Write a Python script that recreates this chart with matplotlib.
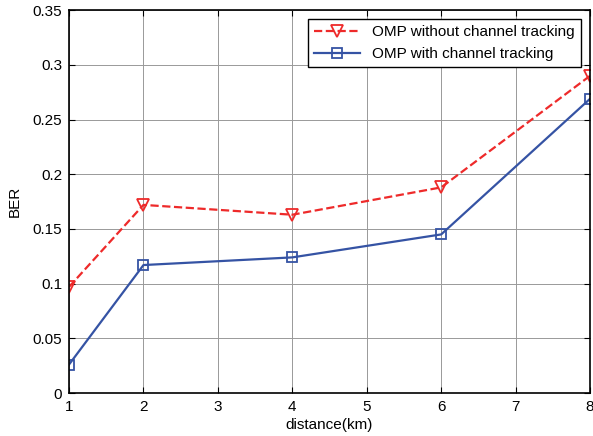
import matplotlib.pyplot as plt

distance = [1, 2, 4, 6, 8]
ber_without = [0.097, 0.172, 0.163, 0.188, 0.290]
ber_with = [0.026, 0.117, 0.124, 0.145, 0.269]

plt.rcParams['font.family'] = ['Liberation Sans', 'DejaVu Sans']
plt.rcParams['font.size'] = 11

fig = plt.figure(figsize=(5.93, 4.36), dpi=100)
ax = fig.add_axes([0.1164, 0.0986, 0.8786, 0.878])

ax.plot(distance, ber_without, '--', color='#ee2a2a', lw=1.6, marker='v',
        ms=8, mfc='none', mec='#ee2a2a', mew=1.3,
        label='OMP without channel tracking')
ax.plot(distance, ber_with, '-', color='#3553a4', lw=1.6, marker='s',
        ms=7, mfc='none', mec='#3553a4', mew=1.3,
        label='OMP with channel tracking')

ax.set_xlim(1, 8)
ax.set_ylim(0, 0.35)
ax.set_xticks(range(1, 9))
ax.set_yticks([0, 0.05, 0.1, 0.15, 0.2, 0.25, 0.3, 0.35])
ax.set_yticklabels(['0', '0.05', '0.1', '0.15', '0.2', '0.25', '0.3', '0.35'])
ax.grid(True, color='#999999', lw=0.7)
ax.tick_params(direction='in', length=4, top=True, right=True, pad=5)
for s in ax.spines.values():
    s.set_linewidth(1.2)
ax.set_xlabel('distance(km)', labelpad=3)
ax.set_ylabel('BER', labelpad=8)

leg = ax.legend(loc='upper right', fancybox=False, edgecolor='black',
                framealpha=1, handlelength=3, borderaxespad=0.6,
                labelspacing=0.5)
leg.get_frame().set_linewidth(1.0)

fig.savefig('out.png', dpi=100)
